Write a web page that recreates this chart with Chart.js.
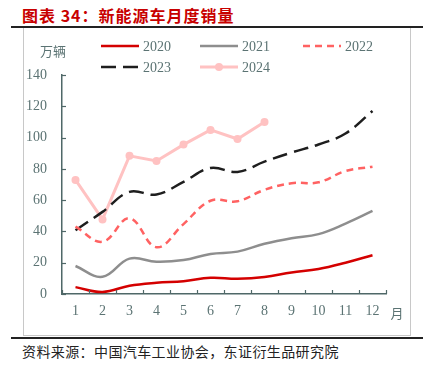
<!DOCTYPE html>
<html><head><meta charset="utf-8">
<script src="https://cdn.jsdelivr.net/npm/chart.js@4/dist/chart.umd.min.js"></script>
<style>
html,body{margin:0;padding:0;background:#fff;width:435px;height:368px;overflow:hidden;}
#wrap{position:relative;width:435px;height:368px;}
canvas{position:absolute;left:0;top:0;}
.t{position:absolute;white-space:nowrap;font-family:"Noto Sans CJK SC",sans-serif;}
.ln{position:absolute;}
</style></head>
<body><div id="wrap">
<div class="t" style="left:22px;top:4px;font-size:16px;font-weight:bold;letter-spacing:1px;color:#c80000;line-height:22px;">图表 34：新能源车月度销量</div>
<div class="ln" style="left:11px;top:26px;width:412px;height:1.5px;background:#222;"></div>
<div class="ln" style="left:23px;top:28px;width:1px;height:307px;background:#c8c8c8;"></div>
<div class="ln" style="left:410px;top:28px;width:1px;height:307px;background:#c8c8c8;"></div>
<div class="ln" style="left:23px;top:335px;width:388px;height:1px;background:#c8c8c8;"></div>
<div class="ln" style="left:11px;top:337px;width:412px;height:1.5px;background:#222;"></div>
<div class="t" style="left:22px;top:341px;font-size:14px;letter-spacing:0.4px;color:#222;line-height:20px;">资料来源：中国汽车工业协会，东证衍生品研究院</div>
<canvas id="c" width="435" height="368"></canvas>
</div>
<script>
const months = ['1','2','3','4','5','6','7','8','9','10','11','12'];
const yTicks = [0,20,40,60,80,100,120,140];
const s2020 = [4.4,1.3,5.3,7.2,8.2,10.4,9.8,10.9,13.8,16.0,20.0,24.8];
const s2021 = [17.9,11.0,22.6,20.6,21.7,25.6,27.1,32.1,35.7,38.3,45.0,53.1];
const s2022 = [43.1,33.4,48.4,29.9,44.7,59.6,59.3,66.6,70.8,71.4,78.6,81.4];
const s2023 = [40.8,52.5,65.3,63.6,71.7,80.6,78.0,84.6,90.4,95.6,102.6,117.0];
const s2024 = [72.9,47.7,88.3,85.0,95.5,104.9,99.1,110.0];
const seriesNames = ['2020','2021','2022','2023','2024'];
const unitLabel = '万辆';
const xUnit = '月';

const serif = '"Liberation Serif","DejaVu Serif",serif';
const txtColor = '#5b7373';
const axisColor = '#4f6868';

const legendPos = [[101,46],[200,46],[303,46],[101,67],[200,67]];

const extras = {
  id:'extras',
  afterDraw(chart){
    const ctx = chart.ctx;
    const xs = chart.scales.x, ys = chart.scales.y;
    ctx.save();
    ctx.strokeStyle = axisColor; ctx.lineWidth = 1.2;
    yTicks.forEach(v=>{
      const y = Math.round(ys.getPixelForValue(v))+0.5;
      ctx.beginPath(); ctx.moveTo(xs.left, y); ctx.lineTo(xs.left+4, y); ctx.stroke();
    });
    const n = months.length;
    for(let i=0;i<=n;i++){
      let x;
      if(i===0) x = xs.left; else if(i===n) x = xs.right;
      else x = (xs.getPixelForTick(i-1)+xs.getPixelForTick(i))/2;
      x = Math.round(x)+0.5;
      ctx.beginPath(); ctx.moveTo(x, ys.bottom); ctx.lineTo(x, ys.bottom-4); ctx.stroke();
    }
    ctx.fillStyle = txtColor;
    ctx.font = '13px "Noto Sans CJK SC",sans-serif';
    ctx.textBaseline = 'middle'; ctx.textAlign = 'center';
    ctx.fillText(unitLabel, 53, 51);
    ctx.fillText(xUnit, 397, 313);
    ctx.textAlign = 'left';
    ctx.font = '14px '+serif;
    chart.data.datasets.forEach((ds,i)=>{
      const [x0,y] = legendPos[i];
      ctx.save();
      ctx.strokeStyle = ds.borderColor; ctx.lineWidth = ds.borderWidth;
      ctx.setLineDash(ds.borderDash||[]);
      ctx.beginPath(); ctx.moveTo(x0,y); ctx.lineTo(x0+38,y); ctx.stroke();
      ctx.setLineDash([]);
      if(ds.pointRadius>0){
        ctx.fillStyle = ds.pointBackgroundColor;
        ctx.beginPath(); ctx.arc(x0+19,y,ds.pointRadius,0,Math.PI*2); ctx.fill();
      }
      ctx.restore();
      ctx.fillStyle = txtColor;
      ctx.fillText(ds.label, x0+42, y+1);
    });
    ctx.restore();
  }
};

const mk = (label,data,color,width,dash,tension,pr)=>({
  label, data, borderColor:color, backgroundColor:color, borderWidth:width,
  borderDash:dash, tension, pointRadius:pr, pointBackgroundColor:color,
  pointBorderWidth:0, fill:false, cubicInterpolationMode:'default'
});

new Chart(document.getElementById('c'),{
  type:'line',
  data:{labels:months, datasets:[
    mk(seriesNames[0], s2020, '#d40000', 2.5, [], 0.4, 0),
    mk(seriesNames[1], s2021, '#8e8e8e', 2.5, [], 0.4, 0),
    mk(seriesNames[2], s2022, '#ff6262', 2.5, [7,5], 0.4, 0),
    mk(seriesNames[3], s2023, '#1e1e1e', 2.5, [15,7], 0.4, 0),
    mk(seriesNames[4], s2024, '#ffc2c2', 3, [], 0, 4)
  ]},
  options:{
    responsive:false, animation:false, devicePixelRatio:1,
    layout:{padding:{left:0,top:75,right:49,bottom:44}},
    plugins:{legend:{display:false},tooltip:{enabled:false}},
    scales:{
      x:{
        offset:true,
        grid:{display:false, drawTicks:false},
        border:{display:true,color:axisColor,width:1.5},
        ticks:{color:txtColor,font:{family:serif,size:14},padding:9,maxRotation:0},
        afterFit(s){s.height=30;}
      },
      y:{
        min:0,max:140,
        afterBuildTicks(s){s.ticks = yTicks.map(v=>({value:v}));},
        grid:{display:false, drawTicks:false},
        border:{display:true,color:axisColor,width:1.5},
        ticks:{color:txtColor,font:{family:serif,size:14},padding:15},
        afterFit(s){s.width=62;}
      }
    }
  },
  plugins:[extras]
});
</script>
</body></html>
